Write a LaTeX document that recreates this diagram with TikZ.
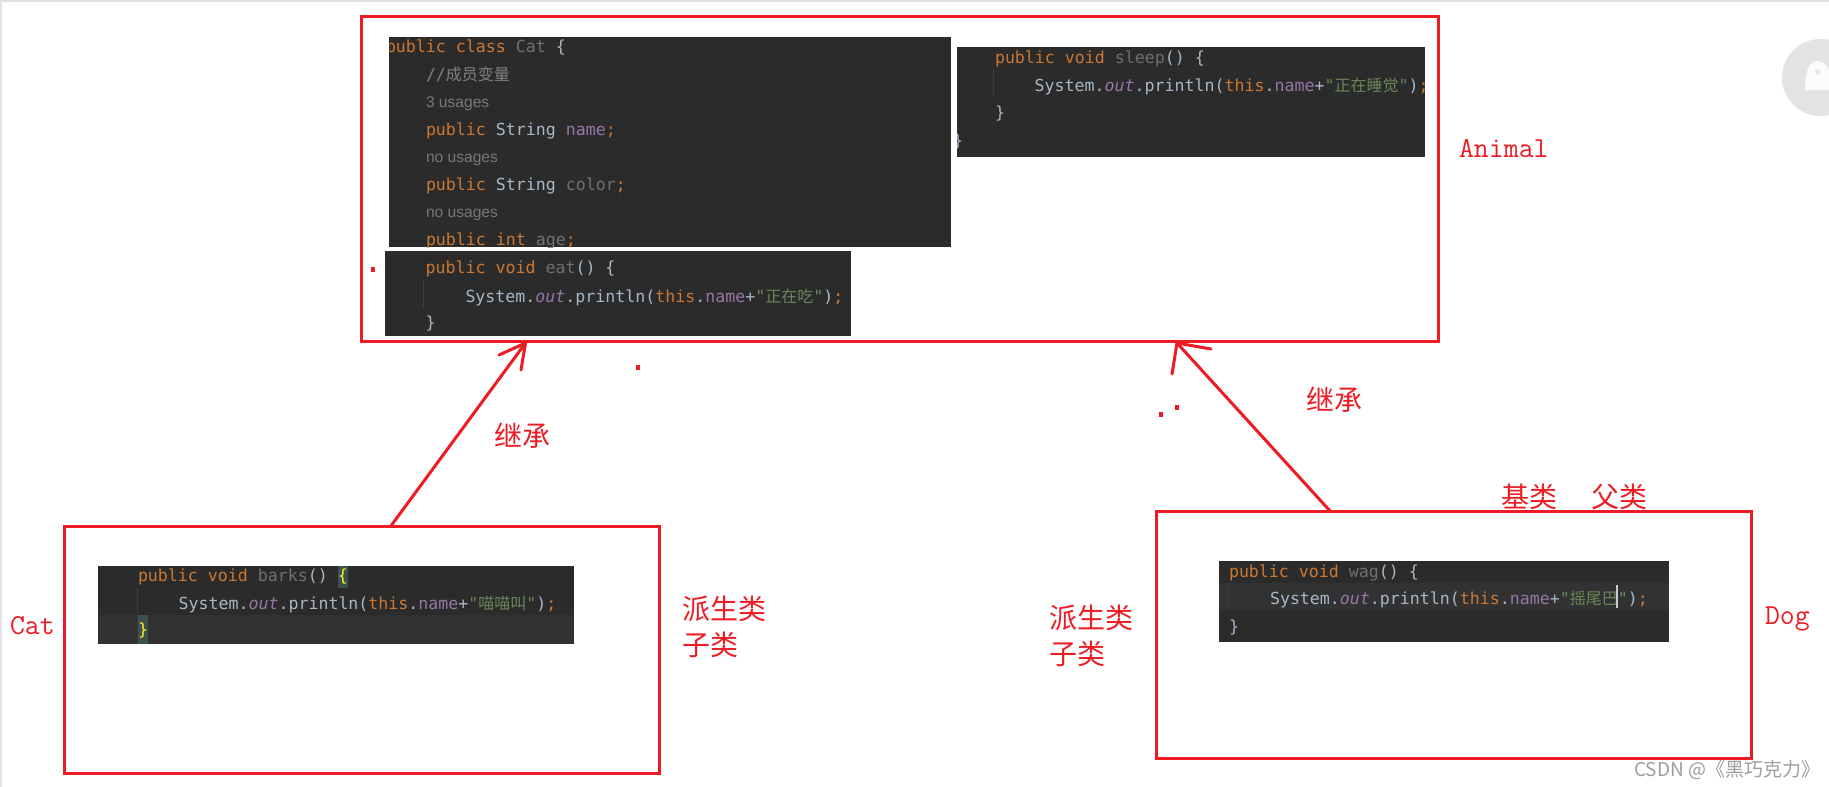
\documentclass[tikz,border=0pt]{standalone}
\usepackage{fontspec}
\newfontfamily\codef{DejaVu Sans Mono}
\newfontfamily\cjk{Noto Sans CJK SC}
\newfontfamily\inlayf{Liberation Sans}
\definecolor{redc}{HTML}{ED1C24}
\definecolor{bgc}{HTML}{2B2B2B}
\definecolor{rowc}{HTML}{323232}
\definecolor{kwc}{HTML}{CC7832}
\definecolor{txc}{HTML}{A9B7C6}
\definecolor{fldc}{HTML}{9876AA}
\definecolor{strc}{HTML}{6A8759}
\definecolor{grayc}{HTML}{6C7176}
\definecolor{cmtc}{HTML}{808080}
\definecolor{inlc}{HTML}{787878}
\definecolor{guidec}{HTML}{3C3C3C}
\definecolor{matchc}{HTML}{3B514D}
\definecolor{yelc}{HTML}{FFEF28}
\definecolor{ghostc}{HTML}{E3E3E3}
\newcommand{\kw}[1]{\textcolor{kwc}{#1}}
\newcommand{\tx}[1]{\textcolor{txc}{#1}}
\newcommand{\fl}[1]{\textcolor{fldc}{#1}}
\newcommand{\un}[1]{\textcolor{grayc}{#1}}
\newcommand{\cj}[1]{{\fontsize{16}{20}\cjk #1}}
\newcommand{\printline}[1]{\tx{System.}\fl{\itshape out}\tx{.println(}\kw{this}\tx{.}\fl{name}\tx{+}\textcolor{strc}{"\cj{#1}"}\tx{)}\kw{;}}
\tikzset{
  redbox/.style={draw=redc,line width=3pt,inner sep=0pt,outer sep=0pt,anchor=north west},
  darkbox/.style={fill=bgc,inner sep=0pt,outer sep=0pt,anchor=north west},
  code/.style={anchor=base west,inner sep=0pt,outer sep=0pt,font=\fontsize{16.6}{20}\codef},
  inlay/.style={anchor=base west,inner sep=0pt,outer sep=0pt,text=inlc,font=\fontsize{15.6}{20}\inlayf},
  redcjk/.style={anchor=base west,inner sep=0pt,outer sep=0pt,text=redc,font=\fontsize{28}{30}\cjk},
  redlat/.style={anchor=base west,inner sep=0pt,outer sep=0pt,text=redc,font=\fontsize{29}{30}\ttfamily},
  redline/.style={draw=redc,line width=3pt,line cap=round},
  speck/.style={fill=redc,inner sep=0pt,outer sep=0pt,minimum width=4pt,minimum height=5pt},
  guide/.style={draw=guidec,line width=1pt}
}
\begin{document}
\begin{tikzpicture}[x=1pt,y=-1pt]
\useasboundingbox (0,0) rectangle (1829,787);
\fill[white] (0,0) rectangle (1829,787);
% window edges
\fill[black!12] (0,0) rectangle (1829,2);
\fill[blue!12!gray!20] (0,0) rectangle (2,787);
% ghost badge
\begin{scope}
\clip (0,0) rectangle (1829,787);
\fill[ghostc] (1820.5,77.5) circle[radius=38.5];
\fill[white!97!gray] (1805,90) .. controls (1805,72) and (1809,61) .. (1817,61) .. controls (1826,61) and (1832,70) .. (1835,90) -- cycle;
\fill[ghostc] (1817.7,72) circle[radius=2.5];
\end{scope}

% boxes
\node[redbox,minimum width=1077pt,minimum height=325pt] (animal) at (361.5,16.5) {};
\node[redbox,minimum width=595pt,minimum height=247pt] (cat) at (64.5,526.5) {};
\node[redbox,minimum width=595pt,minimum height=246.5pt] (dog) at (1156.5,511.5) {};

% class code panel
\node[darkbox,minimum width=562pt,minimum height=210pt] (panelA) at (389,37) {};
\begin{scope}
\clip (panelA.north west) rectangle (panelA.south east);
\node[code] (l1) at (386,52.5) {\kw{public} \kw{class} \un{Cat} \tx{\{}};
\node[code] (l2) at (426,80.5) {\textcolor{cmtc}{//\cj{成员变量}}};
\node[inlay] (l3) at (426,107) {3 usages};
\node[code] (l4) at (426,135.5) {\kw{public} \tx{String} \fl{name}\kw{;}};
\node[inlay] (l5) at (426,162.5) {no usages};
\node[code] (l6) at (426,190.5) {\kw{public} \tx{String} \un{color}\kw{;}};
\node[inlay] (l7) at (426,217.5) {no usages};
\node[code] (l8) at (426,245.5) {\kw{public} \kw{int} \un{age}\kw{;}};
\end{scope}

% eat panel
\node[darkbox,minimum width=466pt,minimum height=85pt] (panelB) at (385,251) {};
\draw[guide] (423,281) -- (423,308);
\node[code] (e1) at (425.6,273.5) {\kw{public} \kw{void} \un{eat}\tx{() \{}};
\node[code] (e2) at (465.5,302) {\printline{正在吃}};
\node[code] (e3) at (425.6,328.5) {\tx{\}}};

% sleep panel
\node[darkbox,minimum width=468pt,minimum height=109.5pt] (panelC) at (957,47) {};
\begin{scope}
\clip (panelC.north west) rectangle (panelC.south east);
\draw[guide] (993,70) -- (993,98);
\node[code] (s1) at (995,63) {\kw{public} \kw{void} \un{sleep}\tx{() \{}};
\node[code] (s2) at (1034.7,91.5) {\printline{正在睡觉}};
\node[code] (s3) at (995,118) {\tx{\}}};
\node[code] (s4) at (953,146) {\tx{\}}};
\end{scope}

% barks panel
\node[darkbox,minimum width=476pt,minimum height=77.5pt] (panelD) at (98,566) {};
\fill[rowc] (98,615) rectangle (574,643.5);
\fill[matchc] (338,566) rectangle (348,588);
\fill[matchc] (138,615) rectangle (148,643.5);
\draw[guide] (137,588) -- (137,615);
\node[code] (b1) at (138,581) {\kw{public} \kw{void} \un{barks}\tx{()} \textcolor{yelc}{\{}};
\node[code] (b2) at (178.6,609) {\printline{喵喵叫}};
\node[code] (b3) at (138,635.5) {\textcolor{yelc}{\}}};

% wag panel
\node[darkbox,minimum width=450pt,minimum height=81.5pt] (panelE) at (1219,560.5) {};
\fill[rowc] (1219,583) rectangle (1669,610);
\draw[guide] (1228,583) -- (1228,610);
\node[code] (w1) at (1229,577) {\kw{public} \kw{void} \un{wag}\tx{() \{}};
\node[code] (w2) at (1270,604.5) {\printline{摇尾巴}};
\node[code] (w3) at (1229,632.5) {\tx{\}}};
\fill[txc!70!white] (1616,585) rectangle (1618,608);

% connectors (hand drawn)
\draw[redline] ([xshift=326pt]cat.north west) -- ([xshift=164pt,yshift=-1.5pt]animal.south west);
\draw[redline] (499,355) -- ([xshift=164pt,yshift=-1.5pt]animal.south west) -- (521,370);
\draw[redline] ([xshift=174pt]dog.north west) -- ([xshift=815.5pt,yshift=-1.5pt]animal.south west);
\draw[redline] (1172,374) -- ([xshift=815.5pt,yshift=-1.5pt]animal.south west) -- (1211,349);

% stray specks
\node[speck] (d1) at (373,269) {};
\node[speck] (d2) at (638,367) {};
\node[speck] (d3) at (1161,414) {};
\node[speck] (d4) at (1177,407) {};

% labels
\node[redlat] (tAnimal) at (1459,157.5) {Animal};
\node[redlat] (tCat) at (10,634.5) {Cat};
\node[redlat] (tDog) at (1765,624.5) {Dog};
\node[redcjk] (tA1) at (682,619) {派生类};
\node[redcjk] (tA2) at (682,655) {子类};
\node[redcjk] (tB1) at (1049,628) {派生类};
\node[redcjk] (tB2) at (1049,664) {子类};
\node[redcjk] (tBase) at (1501,507) {基类};
\node[redcjk] (tParent) at (1591,507) {父类};
\node[redcjk] (tInh1) at (494,446) {继承};
\node[redcjk] (tInh2) at (1306,410) {继承};
\node[anchor=base west,inner sep=0pt,text=black!38,font=\fontsize{19}{22}\cjk] (wm) at (1634,776) {CSDN @《黑巧克力》};
\end{tikzpicture}
\end{document}
